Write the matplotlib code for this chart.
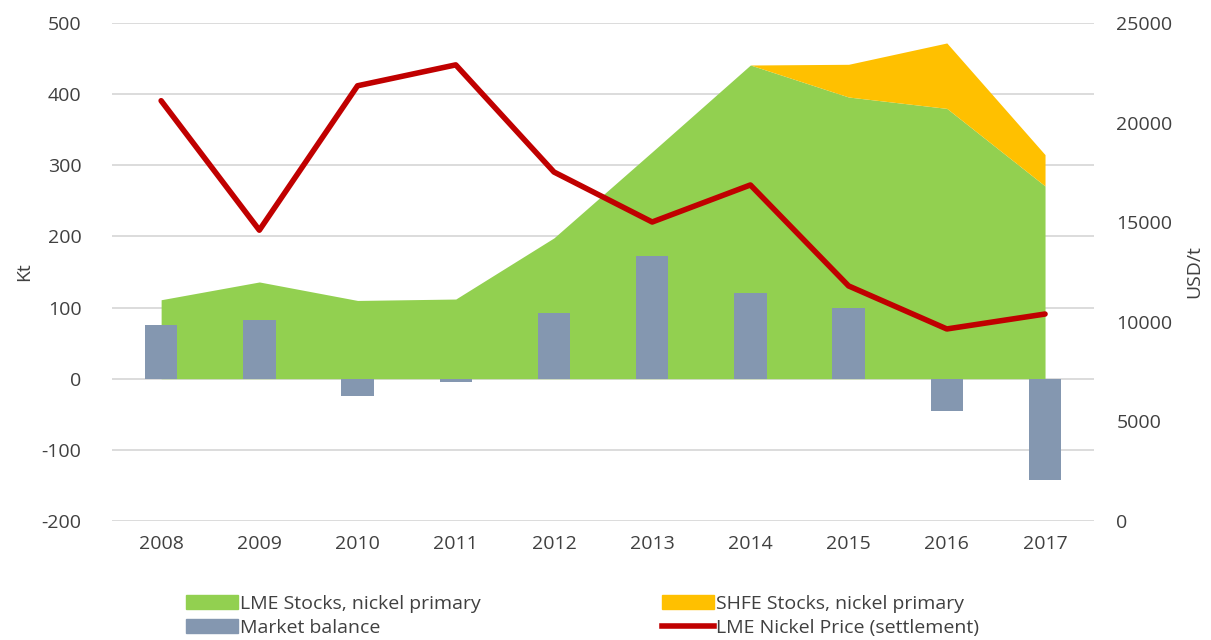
import matplotlib.pyplot as plt
import numpy as np
from matplotlib.patches import Patch
from matplotlib.lines import Line2D

plt.rcParams['font.family'] = ['Open Sans', 'DejaVu Sans']
plt.rcParams['axes.unicode_minus'] = False

years = ['2008', '2009', '2010', '2011', '2012', '2013', '2014', '2015', '2016', '2017']
lme_stocks = [111, 136, 110, 112, 198, 319, 441, 396, 380, 271]
shfe_stocks = [0, 0, 0, 0, 0, 0, 0, 46, 92, 44]
market_balance = [75, 82, -24, -4, 93, 173, 120, 100, -46, -143]
nickel_price = [21100, 14600, 21850, 22900, 17520, 15010, 16870, 11800, 9640, 10390]

x = np.arange(len(years))
lme = np.array(lme_stocks)
shfe = np.array(shfe_stocks)

fig = plt.figure(figsize=(12.11, 6.4), dpi=100)
ax = fig.add_axes([0.0925, 0.186, 0.811, 0.778])

ax.fill_between(x, 0, lme, color='#92d050', linewidth=0, zorder=2)
ax.fill_between(x, lme, lme + shfe, color='#ffc000', linewidth=0, zorder=2)
ax.bar(x, market_balance, width=0.33, color='#8497b0', zorder=3)

ax.set_xlim(-0.5, 9.5)
ax.set_ylim(-200, 500)
ax.set_yticks(range(-200, 501, 100))
ax.set_xticks(x)
ax.set_xticklabels(years)
ax.grid(axis='y', color='#d9d9d9', linewidth=1.3, zorder=0)
ax.set_axisbelow(True)
for s in ax.spines.values():
    s.set_visible(False)
ax.tick_params(axis='x', length=0, labelsize=14, colors='#404040', pad=10)
ax.tick_params(axis='y', length=0, labelsize=14, colors='#404040', pad=22)
ax.set_ylabel('Kt', fontsize=14, color='#404040', labelpad=6)

ax2 = ax.twinx()
ax2.plot(x, nickel_price, color='#c00000', linewidth=4, solid_capstyle='round', zorder=5)
ax2.set_ylim(0, 25000)
ax2.set_yticks(range(0, 25001, 5000))
for s in ax2.spines.values():
    s.set_visible(False)
ax2.tick_params(length=0, labelsize=14, colors='#404040', pad=16)
ax2.set_ylabel('USD/t', fontsize=14, color='#404040', labelpad=9)

handles = [
    Patch(color='#92d050', label='LME Stocks, nickel primary'),
    Patch(color='#8497b0', label='Market balance'),
    Patch(color='#ffc000', label='SHFE Stocks, nickel primary'),
    Line2D([0], [0], color='#c00000', linewidth=4, label='LME Nickel Price (settlement)'),
]
fig.legend(handles=handles, ncol=2, loc='lower left', bbox_to_anchor=(0.139, -0.022),
           frameon=False, fontsize=14, columnspacing=9.3, handlelength=2.7,
           handleheight=0.7, handletextpad=0.1, labelspacing=0.29, labelcolor='#404040')

fig.savefig('out.png', dpi=100)
